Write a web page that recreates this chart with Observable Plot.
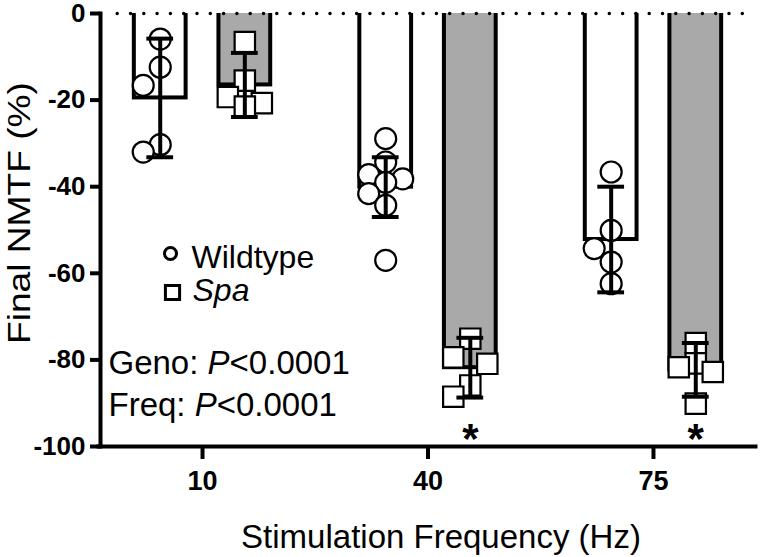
<!DOCTYPE html>
<html>
<head>
<meta charset="utf-8">
<script src="https://cdn.jsdelivr.net/npm/d3@7"></script>
<script src="https://cdn.jsdelivr.net/npm/@observablehq/plot@0.6"></script>
<style>
  body { margin: 0; background: #fff; }
  pre { position: absolute; top: 0; left: 0; font-size: 11px; white-space: pre-wrap; width: 740px; }
</style>
</head>
<body>
<div id="chart"></div>
<script>
// ---------- data ----------
const frequencies = [10, 40, 75];
const genotypes = ["Wildtype", "Spa"];
const yTicks = [0, -20, -40, -60, -80, -100];

const wtMean = [-19.5, -40.1, -52.2];
const wtSD = [13.7, 6.9, 12.2];
const spaMean = [-16.5, -81.8, -82.3];
const spaSD = [7.4, 6.9, 6.2];

const wt10 = [-5.9, -12.4, -16.6, -30.3, -32.0];
const wt40 = [-28.9, -34.3, -37.2, -38.2, -39.0, -41.6, -44.3, -57.0];
const wt75 = [-36.6, -50.1, -54.3, -57.4, -62.4];
const spa10 = [-6.6, -15.5, -19.3, -20.7, -21.5];
const spa40 = [-75.1, -79.4, -80.9, -85.9, -88.5];
const spa75 = [-76.1, -80.8, -81.7, -82.8, -90.1];

const significantSpa = [40, 75];
const statLines = ["Geno: P<0.0001", "Freq: P<0.0001"];

// ---------- layout ----------
const W = 760, H = 557;
const margin = {top: 13, right: 5, bottom: 111, left: 100};
const fxPadInner = 0.095, xPadInner = 0.388, xPadOuter = 0.4;
const FONT = "'Liberation Sans', Arial, Helvetica, sans-serif";
const GRAY = "#a9a9a9";

// Prism-like scatter: spread points that collide sideways (in pixels), computed at render time
function scatter(step, minDist) {
  return function (index, scales, values, dimensions, context, next) {
    const g = next(index, scales, values, dimensions, context);
    const Y = values.y;
    const idx = Array.from(index);
    const order = idx.slice().sort((a, b) => Y[a] - Y[b]);
    const placed = [];
    const off = new Map();
    for (const i of order) {
      let best = 0, bestScore = -Infinity;
      for (const c of [0, -step, step]) {
        const m = placed.length ? Math.min(...placed.map(p => Math.hypot(c - p.x, Y[i] - p.y))) : Infinity;
        if (m >= minDist) { best = c; break; }
        if (m > bestScore) { bestScore = m; best = c; }
      }
      placed.push({x: best, y: Y[i]});
      off.set(i, best);
    }
    const els = Array.from(g.children);
    idx.forEach((i, k) => {
      const el = els[k];
      if (!el) return;
      const t = el.getAttribute("transform") || "";
      el.setAttribute("transform", `translate(${off.get(i)},0) ${t}`);
    });
    return g;
  };
}

let stage = "scales";
try {
// ---------- tables ----------
const summary = frequencies.flatMap((f, i) => [
  {freq: f, geno: "Wildtype", mean: wtMean[i], sd: wtSD[i]},
  {freq: f, geno: "Spa", mean: spaMean[i], sd: spaSD[i]}
]);
const wtPoints = [wt10, wt40, wt75].flatMap((vals, i) => vals.map(v => ({freq: frequencies[i], geno: "Wildtype", v})));
const spaPoints = [spa10, spa40, spa75].flatMap((vals, i) => vals.map(v => ({freq: frequencies[i], geno: "Spa", v})));
const stars = significantSpa.map(f => ({freq: f, geno: "Spa"}));
stage = "plot " + (Plot.version || "?");
const chart = Plot.plot({
  width: W,
  height: H,
  marginTop: margin.top,
  marginRight: margin.right,
  marginBottom: margin.bottom,
  marginLeft: margin.left,
  style: {fontFamily: FONT, fontSize: "30px", color: "black", background: "white", overflow: "visible"},
  fx: {domain: frequencies, paddingInner: fxPadInner, paddingOuter: 0, round: false},
  x: {domain: genotypes, paddingInner: xPadInner, paddingOuter: xPadOuter, round: false, axis: null},
  y: {domain: [-100, 0]},
  marks: [
    Plot.barY(summary.filter(d => d.geno === "Wildtype"), {fx: "freq", x: "geno", y: "mean", fill: "white", stroke: "black", strokeWidth: 4, insetTop: -8, clip: true}),
    Plot.barY(summary.filter(d => d.geno === "Spa"), {fx: "freq", x: "geno", y: "mean", fill: GRAY, stroke: "black", strokeWidth: 4, insetTop: -8, clip: true}),
    Plot.dot(wtPoints, {fx: "freq", x: "geno", y: "v", r: 10.5, fill: "white", stroke: "black", strokeWidth: 2.2, render: scatter(17, 20)}),
    Plot.dot(spaPoints, {fx: "freq", x: "geno", y: "v", r: 11.5, symbol: "square", fill: "white", stroke: "black", strokeWidth: 2.2, render: scatter(17, 20)}),
    Plot.ruleX(summary, {fx: "freq", x: "geno", y1: d => d.mean - d.sd, y2: d => d.mean + d.sd, stroke: "black", strokeWidth: 4}),
    Plot.tickY(summary, {fx: "freq", x: "geno", y: d => d.mean + d.sd, insetLeft: 12.5, insetRight: 12.5, stroke: "black", strokeWidth: 4}),
    Plot.tickY(summary, {fx: "freq", x: "geno", y: d => d.mean - d.sd, insetLeft: 12.5, insetRight: 12.5, stroke: "black", strokeWidth: 4}),
    Plot.text(stars, {fx: "freq", x: "geno", text: () => "*", frameAnchor: "bottom", lineAnchor: "bottom", dy: 6, fontSize: 42, fontWeight: "bold"}),
    // dotted zero line = top edge of the frame (y = 0)
    Plot.frame({facet: "super", anchor: "top", stroke: "black", strokeWidth: 3.5, strokeDasharray: "0 13.3", strokeDashoffset: 6.6, strokeLinecap: "round", insetLeft: 10, insetRight: 8}),
    Plot.axisY({ticks: yTicks, tickSize: 10, tickPadding: 5, strokeWidth: 4, fontWeight: "bold", fontSize: 26, tickFormat: d => String(d), label: null}),
    // y axis line and x axis line (at y = -100, the frame bottom)
    Plot.frame({facet: "super", anchor: "left", stroke: "black", strokeWidth: 4}),
    Plot.frame({facet: "super", anchor: "bottom", stroke: "black", strokeWidth: 4, insetLeft: -2}),
    Plot.axisFx({anchor: "bottom", tickSize: 13, tickPadding: 11, strokeWidth: 4, fontWeight: "bold", fontSize: 27, label: null}),
    Plot.text(["Stimulation Frequency (Hz)"], {facet: "super", frameAnchor: "bottom", textAnchor: "middle", lineAnchor: "bottom", dx: 13, dy: 101, fontSize: 33}),
    Plot.text(["Final NMTF (%)"], {facet: "super", frameAnchor: "left", textAnchor: "middle", rotate: -90, lineAnchor: "bottom", dx: -71, dy: -17, fontSize: 31}),
    Plot.dot([genotypes[0]], {facet: "super", frameAnchor: "top-left", dx: 70, dy: 240, r: 6, fill: "white", stroke: "black", strokeWidth: 3}),
    Plot.dot([genotypes[1]], {facet: "super", frameAnchor: "top-left", dx: 72, dy: 279, r: 8, symbol: "square", fill: "white", stroke: "black", strokeWidth: 3}),
    Plot.text([genotypes[0]], {facet: "super", frameAnchor: "top-left", textAnchor: "start", lineAnchor: "bottom", dx: 91, dy: 254, fontSize: 32}),
    Plot.text([genotypes[1]], {facet: "super", frameAnchor: "top-left", textAnchor: "start", lineAnchor: "bottom", dx: 92, dy: 287, fontSize: 32, fontStyle: "italic"}),
    Plot.text([statLines[0]], {facet: "super", frameAnchor: "top-left", textAnchor: "start", lineAnchor: "bottom", dx: 8, dy: 360, fontSize: 33}),
    Plot.text([statLines[1]], {facet: "super", frameAnchor: "top-left", textAnchor: "start", lineAnchor: "bottom", dx: 8, dy: 402, fontSize: 33})
  ]
});
stage = "post";
chart.querySelectorAll("text").forEach(t => {
  const s = t.textContent;
  if (statLines.includes(s)) {
    const i = s.indexOf("P<");
    t.textContent = "";
    const a = document.createElementNS("http://www.w3.org/2000/svg", "tspan"); a.textContent = s.slice(0, i);
    const b = document.createElementNS("http://www.w3.org/2000/svg", "tspan"); b.textContent = "P"; b.setAttribute("font-style", "italic");
    const c = document.createElementNS("http://www.w3.org/2000/svg", "tspan"); c.textContent = s.slice(i + 1);
    t.append(a, b, c);
  } else if (s === "Final NMTF (%)") {
    t.setAttribute("textLength", "262");
    t.setAttribute("lengthAdjust", "spacingAndGlyphs");
  }
});
document.getElementById("chart").append(chart);
} catch (e) {
  document.body.insertAdjacentHTML("afterbegin", "<pre>" + stage + "\n" + e + "\n" + e.stack + "</pre>");
}
</script>
</body>
</html>
